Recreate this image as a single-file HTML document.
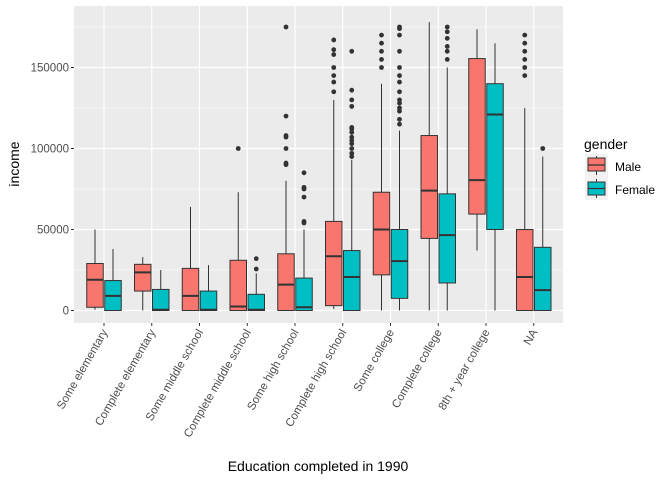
<!DOCTYPE html>
<html><head><meta charset="utf-8"><style>
html,body{margin:0;padding:0;background:#fff;}
svg{display:block;font-family:"Liberation Sans",Arial,sans-serif;}
</style></head><body>
<svg id="chart" width="672" height="480" viewBox="0 0 672 480">
<rect x="74" y="6" width="489" height="317" fill="#ebebeb"/>
<g id="grid"></g><g id="marks"></g><g id="axes"></g>
<text x="318" y="471" font-size="14" text-anchor="middle" fill="#000">Education completed in 1990</text>
<text transform="translate(19,164) rotate(-90)" font-size="14" text-anchor="middle" fill="#000">income</text>
<g>
<text x="584" y="149" font-size="14" fill="#000">gender</text>
<g>
<rect x="585" y="154" width="23" height="23" fill="#f2f2f2"/>
<line x1="596.5" y1="156" x2="596.5" y2="175" stroke="#333" stroke-width="1"/>
<rect x="588" y="158" width="17" height="13" fill="#f8766d" stroke="#333" stroke-width="1"/>
<line x1="588" y1="165" x2="605" y2="165" stroke="#333" stroke-width="1.2"/>
<text x="615" y="171" font-size="12" fill="#000">Male</text></g>
<g>
<rect x="585" y="177" width="23" height="23" fill="#f2f2f2"/>
<line x1="596.5" y1="179" x2="596.5" y2="198" stroke="#333" stroke-width="1"/>
<rect x="588" y="182" width="17" height="13" fill="#00bfc4" stroke="#333" stroke-width="1"/>
<line x1="588" y1="188.5" x2="605" y2="188.5" stroke="#333" stroke-width="1.2"/>
<text x="615" y="194" font-size="12" fill="#000">Female</text></g>
</g>
</svg>
<script>
const categories=["Some elementary","Complete elementary","Some middle school","Complete middle school","Some high school","Complete high school","Some college","Complete college","8th + year college","NA"];
// [lower whisker, q1, median, q3, upper whisker] in thousands
const maleStats=[[0.5,2,19,29,50],[0,12,23.5,28.5,33],[0,0,9,26,64],[0,0,2.5,31,73],[0,0,16,35,80],[1,3,33.5,55,130],[0,22,50,73,140],[0,44.5,74,108,178],[37,59.5,80.5,155.5,173.5],[0,0,20.7,50,125]];
const femaleStats=[[0,0,9,18.5,38],[0,0,0.5,13,25],[0,0,0.5,12,28],[0,0,0.5,10,23],[0,0,2,20,50],[0,0,20.7,37,93],[0,7.5,30.5,50,111],[0,17,46.5,72,150],[0,50,121,140,165],[0,0,12.6,39,95]];
const maleOutliers=[[],[],[],[100],[90,91,100,107,108,120,175],[135,141,145,150,158,161,167],[150,155,160,165,170],[],[],[145,150,155,160,165,170]];
const femaleOutliers=[[],[],[],[25.6,32],[54,55,70,75,76,85],[95,97,100,103,105,107,110,112,113,126,130,136,160],[115,118,123,125,128,130,135,141,145,150,160,170,174,175],[155,160,163,168,172,175],[],[100]];
const yTicks=[0,50000,100000,150000];
const yMinor=[25000,75000,125000,175000];

const NS="http://www.w3.org/2000/svg";
const L=74,R=563,T=6,B=323;
const y=v=>310.5-v/50000*81;
const xs=i=>104+i*47.75;
function mk(tag,attrs,parent){const e=document.createElementNS(NS,tag);for(const k in attrs)e.setAttribute(k,attrs[k]);parent.appendChild(e);return e;}
const grid=document.getElementById('grid'),marks=document.getElementById('marks'),axes=document.getElementById('axes');
yMinor.forEach(v=>{const l=mk('line',{x1:L,x2:R,y1:y(v),y2:y(v),stroke:'#fff','stroke-width':0.6},grid);

});
yTicks.forEach(v=>{const l=mk('line',{x1:L,x2:R,y1:y(v),y2:y(v),stroke:'#fff','stroke-width':1.2},grid);


const t=mk('text',{x:L-5,y:y(v)+4,'font-size':11.5,'text-anchor':'end',fill:'#4d4d4d'},axes);t.textContent=String(v);


mk('line',{x1:L-3,x2:L,y1:y(v),y2:y(v),stroke:'#333'},axes);});
categories.forEach((c,i)=>{const x=xs(i);
const l=mk('line',{x1:x,x2:x,y1:T,y2:B,stroke:'#fff','stroke-width':1.2},grid);


mk('line',{x1:x,x2:x,y1:B,y2:B+3,stroke:'#333'},axes);
const t=mk('text',{transform:`translate(${x+4},${B+9}) rotate(-60)`,'font-size':11.5,'text-anchor':'end',fill:'#4d4d4d'},axes);t.textContent=c;

});
function drawBox(i,s,out,off,fill,name){const cx=xs(i)+off,w=16.5,K=1000;
const g=mk('g',{},marks);


mk('line',{x1:cx,x2:cx,y1:y(s[0]*K),y2:y(s[1]*K),stroke:'#333','stroke-width':1},g);
mk('line',{x1:cx,x2:cx,y1:y(s[3]*K),y2:y(s[4]*K),stroke:'#333','stroke-width':1},g);
mk('rect',{x:cx-w/2,y:y(s[3]*K),width:w,height:Math.max(0.5,y(s[1]*K)-y(s[3]*K)),fill:fill,stroke:'#333','stroke-width':1},g);
mk('line',{x1:cx-w/2,x2:cx+w/2,y1:y(s[2]*K),y2:y(s[2]*K),stroke:'#333','stroke-width':2},g);
out.forEach(o=>{const p=mk('circle',{cx:cx,cy:y(o*K),r:2.4,fill:'#333'},g);

});}
categories.forEach((c,i)=>{drawBox(i,maleStats[i],maleOutliers[i],-9,'#f8766d','box-male');drawBox(i,femaleStats[i],femaleOutliers[i],9,'#00bfc4','box-female');});
</script>
</body></html>
